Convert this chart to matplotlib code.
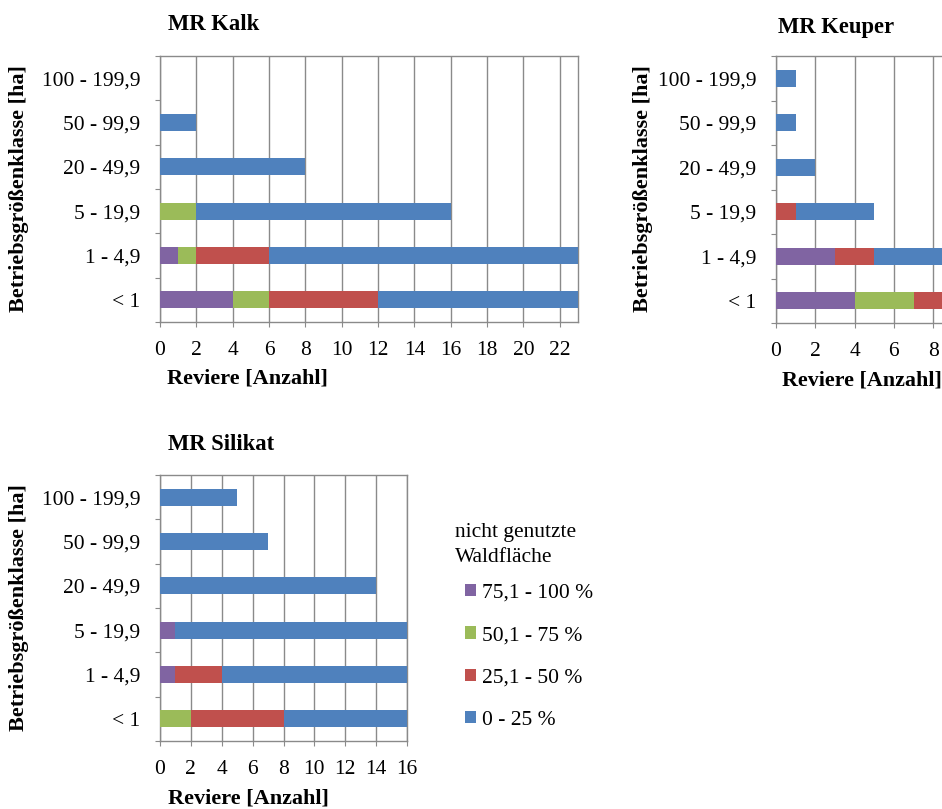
import matplotlib
matplotlib.use("Agg")
import matplotlib.pyplot as plt
import numpy as np

plt.rcParams["font.family"] = ["Liberation Serif", "DejaVu Serif"]

classes = ["< 1", "1 - 4,9", "5 - 19,9", "20 - 49,9", "50 - 99,9", "100 - 199,9"]
groups = ["75,1 - 100 %", "50,1 - 75 %", "25,1 - 50 %", "0 - 25 %"]
colors = ["#8064A2", "#9BBB59", "#C0504D", "#4F81BD"]

# values per class (< 1 ... 100 - 199,9), order of groups as above
kalk_75 = [4, 1, 0, 0, 0, 0]
kalk_50 = [2, 1, 2, 0, 0, 0]
kalk_25 = [6, 4, 0, 0, 0, 0]
kalk_0 = [13, 19, 14, 8, 2, 0]

keuper_75 = [4, 3, 0, 0, 0, 0]
keuper_50 = [3, 0, 0, 0, 0, 0]
keuper_25 = [2, 2, 1, 0, 0, 0]
keuper_0 = [1, 5, 4, 2, 1, 1]

silikat_75 = [0, 1, 1, 0, 0, 0]
silikat_50 = [2, 0, 0, 0, 0, 0]
silikat_25 = [6, 3, 0, 0, 0, 0]
silikat_0 = [10, 14, 16, 14, 7, 5]

W, H = 942, 809
FS = 15.5
GRID = "#8a8a8a"


def px_axes(fig, left, top, right, bottom):
    return fig.add_axes([left / W, 1 - bottom / H, (right - left) / W, (bottom - top) / H])


def draw_panel(ax, series, xmax, xticks, right_spine=True):
    y = np.arange(len(classes))
    left = np.zeros(len(classes))
    handles = []
    for vals, c in zip(series, colors):
        vals = np.array(vals, dtype=float)
        h = ax.barh(y, vals, left=left, height=0.38, color=c, linewidth=0, zorder=3)
        handles.append(h)
        left += vals
    ax.set_xlim(0, xmax)
    ax.set_ylim(-0.5, len(classes) - 0.5)
    ax.set_xticks(xticks)
    ax.set_xticklabels([str(t) for t in xticks], fontsize=FS)
    ax.tick_params(axis="x", direction="out", length=3.6, color=GRID, pad=10)
    # category boundaries get the tick marks, centres get the labels
    ax.set_yticks(np.arange(-0.5, len(classes), 1))
    ax.set_yticklabels([])
    ax.tick_params(axis="y", which="major", direction="out", length=3.6, color=GRID)
    ax.set_yticks(y, minor=True)
    ax.set_yticklabels(classes, minor=True, fontsize=FS)
    ax.tick_params(axis="y", which="minor", length=0, pad=14)
    ax.grid(axis="x", color=GRID, linewidth=1.0, zorder=0)
    ax.set_axisbelow(True)
    for s in ax.spines.values():
        s.set_color(GRID)
        s.set_linewidth(1.0)
    ax.spines["right"].set_visible(right_spine)
    return handles


fig = plt.figure(figsize=(W / 100, H / 100), dpi=100)

ax1 = px_axes(fig, 160, 56, 578, 322)
handles = draw_panel(ax1, [kalk_75, kalk_50, kalk_25, kalk_0], 23, list(range(0, 23, 2)))

ax2 = px_axes(fig, 776, 56, 942, 323)
draw_panel(ax2, [keuper_75, keuper_50, keuper_25, keuper_0], 8.45, [0, 2, 4, 6, 8], right_spine=False)

ax3 = px_axes(fig, 160, 475, 407, 741)
draw_panel(ax3, [silikat_75, silikat_50, silikat_25, silikat_0], 16, list(range(0, 17, 2)))

# titles
fig.text(168 / W, 1 - 25 / H, "MR Kalk", fontsize=16.3, fontweight="bold", va="center", ha="left")
fig.text(778 / W, 1 - 28 / H, "MR Keuper", fontsize=16.3, fontweight="bold", va="center", ha="left")
fig.text(168 / W, 1 - 445 / H, "MR Silikat", fontsize=16.3, fontweight="bold", va="center", ha="left")

# axis labels
ylab = "Betriebsgrößenklasse [ha]"
fig.text(19 / W, 1 - 189 / H, ylab, fontsize=16, fontweight="bold", rotation=90, va="center", ha="center")
fig.text(643 / W, 1 - 189 / H, ylab, fontsize=16, fontweight="bold", rotation=90, va="center", ha="center")
fig.text(19 / W, 1 - 608 / H, ylab, fontsize=16, fontweight="bold", rotation=90, va="center", ha="center")

xlab = "Reviere [Anzahl]"
fig.text(167 / W, 1 - 379 / H, xlab, fontsize=16, fontweight="bold", va="center", ha="left")
fig.text(782 / W, 1 - 380 / H, xlab, fontsize=15.8, fontweight="bold", va="center", ha="left")
fig.text(168 / W, 1 - 798 / H, xlab, fontsize=16, fontweight="bold", va="center", ha="left")

# legend
fig.text(455 / W, 1 - 545 / H, "nicht genutzte\nWaldfläche", fontsize=FS, va="center", ha="left", linespacing=1.45)
fig.legend(handles, groups, loc="upper left", bbox_to_anchor=(465 / W, 1 - 584 / H),
           frameon=False, fontsize=FS, handlelength=0.5, handleheight=0.5,
           handletextpad=0.3, labelspacing=1.08, borderaxespad=0, borderpad=0)

fig.savefig("out.png", dpi=100)
